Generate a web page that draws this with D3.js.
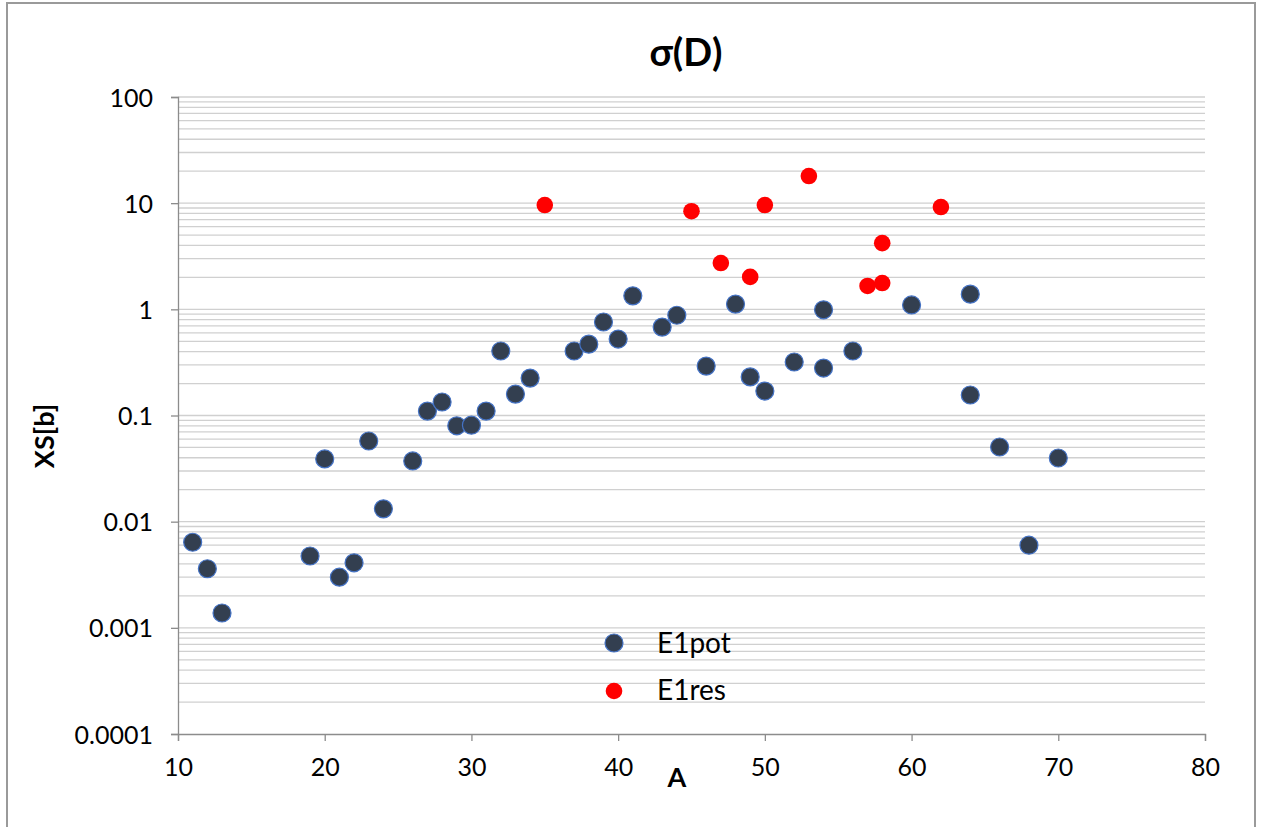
<!DOCTYPE html>
<html>
<head>
<meta charset="utf-8">
<script src="https://cdn.jsdelivr.net/npm/d3@7"></script>
<style>
  html, body { margin: 0; padding: 0; background: #fff; }
  svg { display: block; }
  text { font-family: Lato, "Open Sans", "Liberation Sans", sans-serif; fill: #000; }
</style>
</head>
<body>
<svg id="chart" width="1261" height="827"></svg>
<script>
// E1pot series: mass number A and cross section in barns
const potA  = [11, 12, 13, 19, 20, 21, 22, 23, 24, 26, 27, 28, 29, 30, 31, 32, 33, 34, 37, 38, 39, 40, 41, 43, 44, 46, 48, 49, 50, 52, 54, 54, 56, 60, 64, 64, 66, 68, 70];
const potXS = [0.0064, 0.0036, 0.00138, 0.00475, 0.039, 0.0030, 0.0041, 0.0575, 0.0132, 0.0373, 0.110, 0.134, 0.080, 0.081, 0.110, 0.405, 0.159, 0.225, 0.405, 0.47, 0.76, 0.525, 1.34, 0.68, 0.88, 0.292, 1.12, 0.231, 0.170, 0.319, 0.99, 0.280, 0.405, 1.10, 1.39, 0.156, 0.0505, 0.0060, 0.0398];

// E1res series
const resA  = [35, 45, 47, 49, 50, 53, 57, 58, 58, 62];
const resXS = [9.6, 8.4, 2.73, 2.02, 9.6, 18.0, 1.66, 4.2, 1.77, 9.2];

const xTicks = [10, 20, 30, 40, 50, 60, 70, 80];
const yTicks = [0.0001, 0.001, 0.01, 0.1, 1, 10, 100];
const yTickLabels = ["0.0001", "0.001", "0.01", "0.1", "1", "10", "100"];
const seriesNames = ["E1pot", "E1res"];

const svg = d3.select("#chart");
const plotLeft = 178, plotRight = 1205, plotTop = 97, plotBottom = 734;
const fontStack = "Lato, 'Open Sans', sans-serif";

const x = d3.scaleLinear().domain([10, 80]).range([plotLeft, plotRight]);
const y = d3.scaleLog().domain([0.0001, 100]).range([plotBottom, plotTop]);

// outer frame
svg.append("rect")
  .attr("x", 7).attr("y", 3).attr("width", 1248).attr("height", 840)
  .attr("fill", "none").attr("stroke", "#9a9a9a").attr("stroke-width", 2);

// horizontal gridlines (major and minor)
const gridVals = [];
for (let e = -4; e < 2; e++) {
  for (let m = 1; m <= 9; m++) gridVals.push(m * Math.pow(10, e));
}
gridVals.push(100);
svg.append("g").selectAll("line").data(gridVals.filter(v => v > 0.0001)).join("line")
  .attr("x1", plotLeft).attr("x2", plotRight)
  .attr("y1", d => y(d)).attr("y2", d => y(d))
  .attr("stroke", "#d0d0d0").attr("stroke-width", 1.3);

// y axis
const yAxis = svg.append("g").attr("transform", `translate(${plotLeft},0)`)
  .call(d3.axisLeft(y).tickValues(yTicks).tickFormat((d, i) => yTickLabels[i]).tickSize(7).tickPadding(18));
yAxis.select(".domain").attr("stroke", "#8c8c8c").attr("stroke-width", 1.3);
yAxis.selectAll(".tick line").attr("stroke", "#8c8c8c").attr("stroke-width", 1.3);
yAxis.selectAll(".tick text").style("font-size", "25px").style("font-family", fontStack)
  .attr("fill", "#000").attr("dy", "0.36em");

// x axis
const xAxis = svg.append("g").attr("transform", `translate(0,${plotBottom})`)
  .call(d3.axisBottom(x).tickValues(xTicks).tickFormat(d3.format("d")).tickSize(7).tickPadding(17));
xAxis.select(".domain").attr("stroke", "#8c8c8c").attr("stroke-width", 1.3);
xAxis.selectAll(".tick line").attr("stroke", "#8c8c8c").attr("stroke-width", 1.3);
xAxis.selectAll(".tick text").style("font-size", "25px").style("font-family", fontStack)
  .attr("fill", "#000").attr("dy", "0.71em");

// markers
svg.append("g").selectAll("circle").data(potA.map((a, i) => [a, potXS[i]])).join("circle")
  .attr("cx", d => x(d[0])).attr("cy", d => y(d[1])).attr("r", 9)
  .attr("fill", "#333f50").attr("stroke", "#4472c4").attr("stroke-width", 1.2);

svg.append("g").selectAll("circle").data(resA.map((a, i) => [a, resXS[i]])).join("circle")
  .attr("cx", d => x(d[0])).attr("cy", d => y(d[1])).attr("r", 8.3)
  .attr("fill", "#ff0000");

// title and axis titles
svg.append("text").attr("x", 686).attr("y", 66).attr("text-anchor", "middle")
  .style("font-size", "38px").style("font-weight", "bold").text("σ(D)");
svg.append("text").attr("x", 677).attr("y", 787).attr("text-anchor", "middle")
  .style("font-size", "27px").style("font-weight", "bold").text("A");
svg.append("text").attr("transform", "translate(54,436) rotate(-90)").attr("text-anchor", "middle")
  .style("font-size", "27px").style("font-weight", "bold").text("XS[b]");

// legend
const legend = svg.append("g");
legend.append("circle").attr("cx", 614).attr("cy", 643).attr("r", 9)
  .attr("fill", "#333f50").attr("stroke", "#4472c4").attr("stroke-width", 1.2);
legend.append("text").attr("x", 657).attr("y", 653).style("font-size", "28px").text(seriesNames[0]);
legend.append("circle").attr("cx", 614).attr("cy", 691).attr("r", 8.3).attr("fill", "#ff0000");
legend.append("text").attr("x", 657).attr("y", 700).style("font-size", "28px").text(seriesNames[1]);
</script>
</body>
</html>
